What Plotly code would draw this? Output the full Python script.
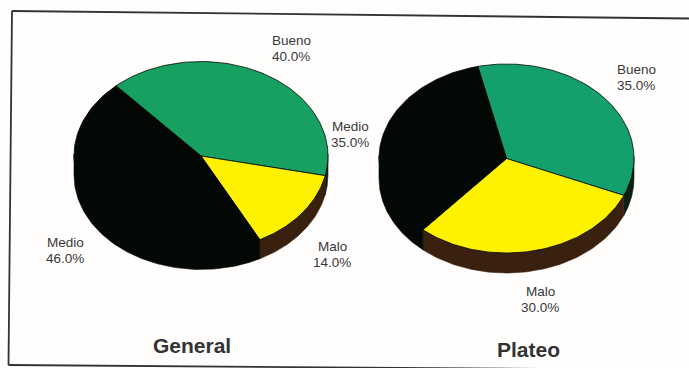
import math
import plotly.graph_objects as go

# Survey shares per slice, in drawing order (clockwise from the start angle)
categories = ["Bueno", "Malo", "Medio"]
general_values = [40.0, 14.0, 46.0]
plateo_values = [35.0, 30.0, 35.0]

W, H = 689, 368
FONT = "Liberation Sans"

side_colors = {"Bueno": "#0a1f16", "Malo": "#3a210f", "Medio": "#040804"}

PIES = [
    dict(name="General", values=general_values, cx=201, cy=156, a=127, b=94.5, depth=19, start=132,
         top={"Bueno": "#17a05f", "Malo": "#fff200", "Medio": "#040804"}),
    dict(name="Plateo", values=plateo_values, cx=506.5, cy=158.5, a=127.5, b=94.5, depth=20, start=103,
         top={"Bueno": "#14a06c", "Malo": "#fff200", "Medio": "#040804"}),
]


def arc(pie, a0, a1, n=90, dy=0.0):
    """Points along the tilted rim from angle a0 to a1 (degrees)."""
    xs, ys = [], []
    for i in range(n + 1):
        t = math.radians(a0 + (a1 - a0) * i / n)
        xs.append(pie["cx"] + pie["a"] * math.cos(t))
        ys.append(pie["cy"] - pie["b"] * math.sin(t) + dy)
    return xs, ys


fig = go.Figure()

for pie in PIES:
    total = sum(pie["values"])
    angle = pie["start"]
    spans = []
    for cat, val in zip(categories, pie["values"]):
        end = angle - 360.0 * val / total
        spans.append((cat, val, angle, end))
        angle = end

    # Rim wall: only the front half of the disc is visible. Its upper edge
    # tucks under the top face so no light seam shows along the rim.
    for cat, val, a0, a1 in spans:
        for shift in (0, -360):
            hi, lo = min(a0 + shift, 0), max(a1 + shift, -180)
            if hi <= lo:
                continue
            xt, yt = arc(pie, hi, lo, dy=-2)
            xb, yb = arc(pie, lo, hi, dy=pie["depth"])
            fig.add_trace(go.Scatter(
                x=xt + xb + xt[:1], y=yt + yb + yt[:1], mode="lines", fill="toself",
                fillcolor=side_colors[cat], line=dict(color=side_colors[cat], width=0.6),
                hoverinfo="skip", showlegend=False,
            ))

    # Top face wedges
    for cat, val, a0, a1 in spans:
        xs, ys = arc(pie, a0, a1)
        fig.add_trace(go.Scatter(
            x=[pie["cx"]] + xs + [pie["cx"]], y=[pie["cy"]] + ys + [pie["cy"]],
            mode="lines", fill="toself", fillcolor=pie["top"][cat],
            line=dict(color="#040804", width=0.8),
            name=f'{pie["name"]}: {cat}', text=f"{cat} {val:.1f}%", hoverinfo="text",
            showlegend=False,
        ))

# Slice labels: (pie values, slice index, label centre)
slice_labels = [
    (general_values, 0, 291, 48),
    (general_values, 1, 332, 254),
    (general_values, 2, 65, 250),
    (plateo_values, 0, 636, 77),
    (plateo_values, 1, 540, 299),
    (plateo_values, 2, 350, 134),
]
annotations = []
for vals, i, x, y in slice_labels:
    for text, line_y in ((categories[i], y - 8), (f"{vals[i]:.1f}%", y + 8.5)):
        annotations.append(dict(x=x, y=line_y, xref="x", yref="y", showarrow=False, text=text,
                                font=dict(family=FONT, size=13.5, color="#383838")))
for title, x, y in [("General", 192, 345), ("Plateo", 528, 349)]:
    annotations.append(dict(x=x, y=y, xref="x", yref="y", showarrow=False, text=f"<b>{title}</b>",
                            font=dict(family=FONT, size=21, color="#333333")))

# Hand-ruled frame, slightly skewed and open on the right
frame = [((12, 11), (689, 18.5)), ((12, 11), (8.5, 365)), ((8.5, 365), (689, 370))]
shapes = [
    dict(type="line", xref="x", yref="y", x0=p[0], y0=p[1], x1=q[0], y1=q[1],
         line=dict(color="#333333", width=1.8))
    for p, q in frame
]

fig.update_layout(
    width=W, height=H, margin=dict(l=0, r=0, t=0, b=0),
    paper_bgcolor="#fffefd", plot_bgcolor="#fffefd",
    xaxis=dict(range=[0, W], visible=False, fixedrange=True),
    yaxis=dict(range=[H, 0], visible=False, fixedrange=True),
    annotations=annotations, shapes=shapes, showlegend=False,
)

fig.write_html("out.html", config={"displayModeBar": False})
